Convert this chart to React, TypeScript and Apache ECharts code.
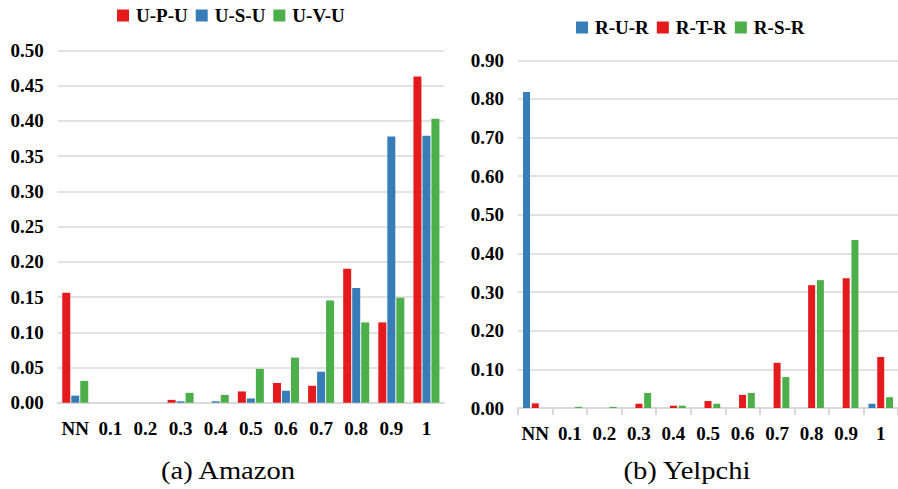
import React, { useEffect, useRef } from "react";
import * as echarts from "echarts";

const categories = ["NN", "0.1", "0.2", "0.3", "0.4", "0.5", "0.6", "0.7", "0.8", "0.9", "1"];

// (a) Amazon
const amazonUPU = [0.156, 0, 0, 0.004, 0, 0.016, 0.028, 0.024, 0.19, 0.114, 0.463];
const amazonUSU = [0.01, 0, 0, 0.002, 0.002, 0.006, 0.017, 0.044, 0.163, 0.378, 0.379];
const amazonUVU = [0.031, 0, 0, 0.014, 0.011, 0.048, 0.064, 0.145, 0.114, 0.149, 0.403];

// (b) Yelpchi
const yelpRUR = [0.818, 0, 0, 0, 0, 0, 0, 0, 0, 0, 0.011];
const yelpRTR = [0.012, 0, 0, 0.011, 0.006, 0.018, 0.034, 0.117, 0.318, 0.336, 0.132];
const yelpRSR = [0, 0.003, 0.003, 0.039, 0.006, 0.011, 0.039, 0.08, 0.331, 0.435, 0.028];

const RED = "#e41a1c";
const BLUE = "#377eb8";
const GREEN = "#4daf4a";
const FONT = "Liberation Serif";

export default function App() {
  const ref = useRef<HTMLDivElement>(null);

  useEffect(() => {
    document.body.style.margin = "0";
    const chart = echarts.init(ref.current!, null, { renderer: "svg" });
    const axisLabel = { fontFamily: FONT, fontWeight: "bold" as const, fontSize: 19, color: "#000" };
    const splitLine = { show: true, lineStyle: { color: "#d9d9d9", width: 1.5 } };
    const legendText = { fontFamily: FONT, fontWeight: "bold" as const, fontSize: 19, color: "#000", padding: [0, 0, 0, 2] };
    chart.setOption({
      animation: false,
      backgroundColor: "#fff",
      textStyle: { fontFamily: FONT },
      legend: [
        {
          left: 112,
          top: 1,
          itemWidth: 12,
          itemHeight: 12,
          itemGap: 8,
          icon: "rect",
          data: ["U-P-U", "U-S-U", "U-V-U"],
          textStyle: legendText,
        },
        {
          left: 571,
          top: 13,
          itemWidth: 12,
          itemHeight: 12,
          itemGap: 8,
          icon: "rect",
          data: ["R-U-R", "R-T-R", "R-S-R"],
          textStyle: legendText,
        },
      ],
      grid: [
        { left: 57.7, top: 50.5, width: 386.3, height: 352.2 },
        { left: 518, top: 60.3, width: 381.3, height: 347.7 },
      ],
      xAxis: [
        {
          type: "category",
          gridIndex: 0,
          data: categories,
          axisLine: { lineStyle: { color: "#d9d9d9", width: 2 } },
          axisTick: { show: false },
          axisLabel: { ...axisLabel, margin: 16, interval: 0 },
        },
        {
          type: "category",
          gridIndex: 1,
          data: categories,
          axisLine: { lineStyle: { color: "#d9d9d9", width: 2 } },
          axisTick: { show: true, length: 7, lineStyle: { color: "#d9d9d9", width: 2 } },
          axisLabel: { ...axisLabel, margin: 16, interval: 0 },
        },
      ],
      yAxis: [
        {
          type: "value",
          gridIndex: 0,
          min: 0,
          max: 0.5,
          interval: 0.05,
          axisLine: { show: false },
          axisTick: { show: false },
          splitLine,
          axisLabel: { ...axisLabel, margin: 14, formatter: (v: number) => v.toFixed(2) },
        },
        {
          type: "value",
          gridIndex: 1,
          min: 0,
          max: 0.9,
          interval: 0.1,
          axisLine: { show: false },
          axisTick: { show: false },
          splitLine,
          axisLabel: { ...axisLabel, margin: 14, formatter: (v: number) => v.toFixed(2) },
        },
      ],
      series: [
        { name: "U-P-U", type: "bar", xAxisIndex: 0, yAxisIndex: 0, data: amazonUPU, barWidth: 8, barGap: "12.5%", itemStyle: { color: RED } },
        { name: "U-S-U", type: "bar", xAxisIndex: 0, yAxisIndex: 0, data: amazonUSU, barWidth: 8, barGap: "12.5%", itemStyle: { color: BLUE } },
        { name: "U-V-U", type: "bar", xAxisIndex: 0, yAxisIndex: 0, data: amazonUVU, barWidth: 8, barGap: "12.5%", itemStyle: { color: GREEN } },
        { name: "R-U-R", type: "bar", xAxisIndex: 1, yAxisIndex: 1, data: yelpRUR, barWidth: 7, barGap: "25%", itemStyle: { color: BLUE } },
        { name: "R-T-R", type: "bar", xAxisIndex: 1, yAxisIndex: 1, data: yelpRTR, barWidth: 7, barGap: "25%", itemStyle: { color: RED } },
        { name: "R-S-R", type: "bar", xAxisIndex: 1, yAxisIndex: 1, data: yelpRSR, barWidth: 7, barGap: "25%", itemStyle: { color: GREEN } },
      ],
      graphic: [
        {
          type: "text",
          x: 228,
          y: 470,
          scaleX: 1.1,
          style: { text: "(a) Amazon", font: "26px Liberation Serif", fontFamily: FONT, fontSize: 26, fill: "#000", textAlign: "center", textVerticalAlign: "middle" },
        },
        {
          type: "text",
          x: 687,
          y: 470,
          scaleX: 1.1,
          style: { text: "(b) Yelpchi", font: "26px Liberation Serif", fontFamily: FONT, fontSize: 26, fill: "#000", textAlign: "center", textVerticalAlign: "middle" },
        },
      ],
    });
    return () => chart.dispose();
  }, []);

  return <div ref={ref} style={{ width: 898, height: 489 }} />;
}
